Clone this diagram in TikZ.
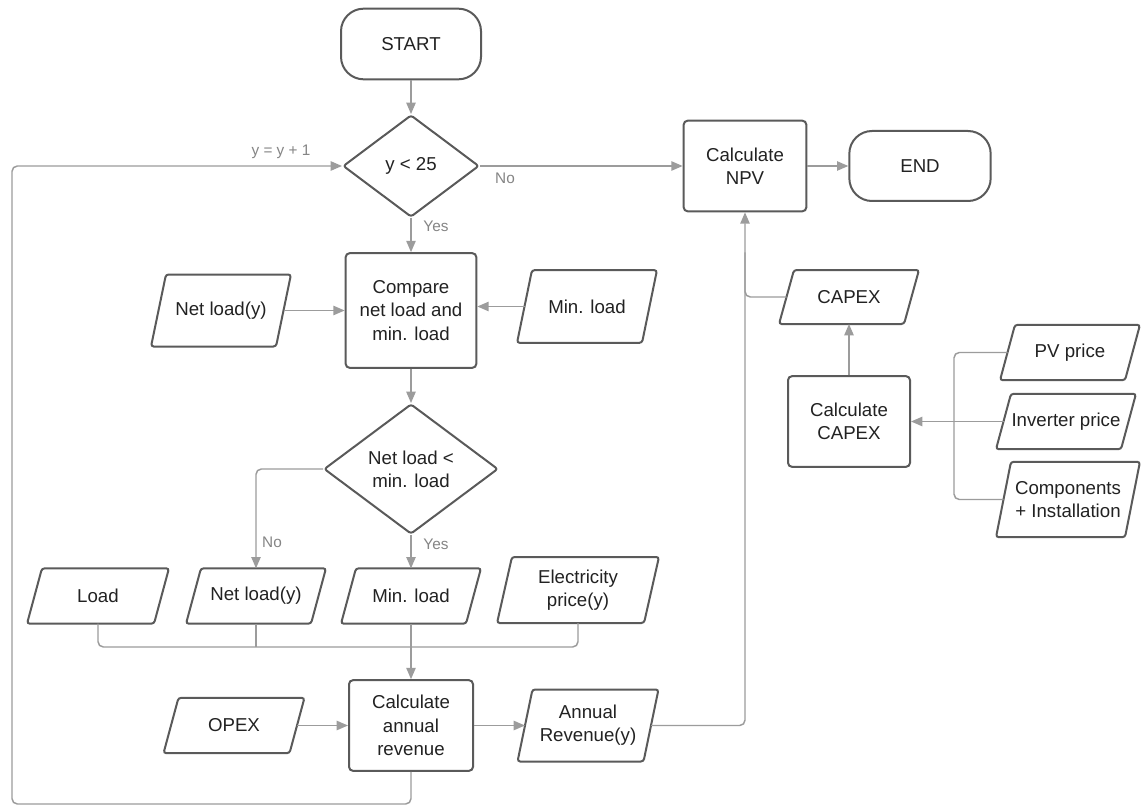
\documentclass[tikz,border=0pt]{standalone}
\usepackage{fontspec}
\setmainfont{Liberation Sans}
\usetikzlibrary{shapes.geometric,arrows.meta,calc}
\definecolor{boxc}{HTML}{5A5A5A}
\definecolor{linec}{HTML}{9C9C9C}
\definecolor{txtc}{HTML}{222222}
\definecolor{labc}{HTML}{858585}
\tikzset{
  base/.style={draw=boxc, line width=1.5pt, text=txtc, font=\fontsize{14}{17.5}\selectfont, align=center, inner sep=0pt},
  proc/.style={base, rectangle, rounded corners=3pt},
  term/.style={base, rectangle, rounded corners=17pt},
  dec/.style={base, diamond, rounded corners=2pt},
  io/.style={base, rectangle, draw=none},
  iobox/.style={draw=boxc, line width=1.5pt, rounded corners=2pt},
  conn/.style={draw=linec, line width=1.1pt},
  arr/.style={conn, -{Triangle[length=8.5pt,width=7pt]}},
  lab/.style={text=labc, font=\fontsize{11.5}{13}\selectfont},
}
\begin{document}
\begin{tikzpicture}[x=0.75pt, y=-0.75pt]
\fill[white] (0,0) rectangle (1146,806);
\useasboundingbox (0,0) rectangle (1146,806);

% main column
\node[term, minimum width=105pt, minimum height=53pt] (start) at (411,44) {START};
\node[dec, minimum width=102pt, minimum height=76.5pt] (d1) at (411,166) {y < 25};
\node[proc, minimum width=98pt, minimum height=86pt] (compare) at (411,310.5) {Compare\\net load and\\min. load};
\node[dec, minimum width=130.5pt, minimum height=97.5pt] (d2) at (411,469) {Net load <\\min. load};
\node[proc, minimum width=93pt, minimum height=68pt] (rev) at (411,725.5) {Calculate\\annual\\revenue};

% top right
\node[proc, minimum width=92pt, minimum height=68pt] (npv) at (745,166) {Calculate\\NPV};
\node[term, minimum width=106pt, minimum height=52.5pt] (end) at (920,166) {END};

% inputs to compare
\node[io, minimum width=92.25pt, minimum height=52.5pt] (netload1) at (221,310.5) {Net load(y)};
\node[io, minimum width=92.25pt, minimum height=53pt] (minload1) at (587,306.5) {Min. load};

% row of inputs
\node[io, minimum width=93.75pt, minimum height=40pt] (load) at (98,596) {Load};
\node[io, minimum width=92.25pt, minimum height=40pt] (netload2) at (256,596) {Net load(y)};
\node[io, minimum width=92.25pt, minimum height=40pt] (minload2) at (411,596) {Min. load};
\node[io, minimum width=108.75pt, minimum height=48pt] (elec) at (578,590) {Electricity\\price(y)};

% bottom row
\node[io, minimum width=93pt, minimum height=40pt] (opex) at (234,725.5) {OPEX};
\node[io, minimum width=93pt, minimum height=52.5pt] (annual) at (588,725.5) {Annual\\Revenue(y)};

% capex group
\node[io, minimum width=92.25pt, minimum height=39pt] (capex) at (849,297) {CAPEX};
\node[proc, minimum width=91.5pt, minimum height=68pt] (ccapex) at (849,421.5) {Calculate\\CAPEX};
\node[io, minimum width=92.25pt, minimum height=40pt] (pv) at (1070,352.5) {PV price};
\node[io, minimum width=92.25pt, minimum height=40pt] (inv) at (1066,421.5) {Inverter price};
\node[io, minimum width=95.25pt, minimum height=55pt] (comp) at (1068,499.5) {Components\\+ Installation};

% parallelogram outlines of the input/output nodes
\foreach \n in {netload1,minload1,load,netload2,minload2,elec,opex,annual,capex,pv,inv,comp}
  \draw[iobox] ([xshift=5.6pt]\n.north west) -- ([xshift=5.6pt]\n.north east)
     -- ([xshift=-5.6pt]\n.south east) -- ([xshift=-5.6pt]\n.south west) -- cycle;

% labels
\node[lab] (lbl-loop) at (281,152) {y = y + 1};
\node[lab] (lbl-no1) at (505,178) {No};
\node[lab] (lbl-yes1) at (436,226) {Yes};
\node[lab] (lbl-no2) at (272,542) {No};
\node[lab] (lbl-yes2) at (436,544) {Yes};

% coordinates
\coordinate (lp1) at (411,804);
\coordinate (lp2) at (12,804);
\coordinate (lp3) at (12,166);
\coordinate (mg) at (411,647);
\coordinate (bx) at (954,421.5);
\coordinate (cj) at ($(npv.south)+(0,40)$);

% connectors
\draw[arr] (start) -- (d1);
\draw[arr] (d1.east) -- (npv.west);
\draw[arr] (npv.east) -- (end.west);
\draw[arr, rounded corners=4pt] (rev.south) -- (lp1) -- (lp2) -- (lp3) -- (d1.west);
\draw[arr] (d1.south) -- (compare.north);
\draw[arr] (netload1.east) -- (compare.west);
\draw[arr] (minload1.west) -- (minload1.west -| compare.east);
\draw[arr] (compare.south) -- (d2.north);
\draw[arr, rounded corners=4pt] (d2.west) -| (netload2.north);
\draw[arr] (d2.south) -- (minload2.north);

\draw[conn, rounded corners=4pt] (load.south) |- (mg);
\draw[conn, rounded corners=4pt] (elec.south) |- (mg);
\draw[conn] (netload2.south) -- (netload2.south |- mg);
\draw[arr] (minload2.south) -- (rev.north);

\draw[arr] (opex.east) -- (rev.west);
\draw[arr] (rev.east) -- (annual.west);
\draw[conn, rounded corners=4pt] (capex.west) -| (cj);
\draw[arr, rounded corners=4pt] (annual.east) -| (npv.south);

\draw[arr] (ccapex.north) -- (capex.south);
\draw[conn, rounded corners=4pt] (pv.west) -| (bx) |- (comp.west);
\draw[arr] (inv.west) -- (ccapex.east);
\end{tikzpicture}
\end{document}
